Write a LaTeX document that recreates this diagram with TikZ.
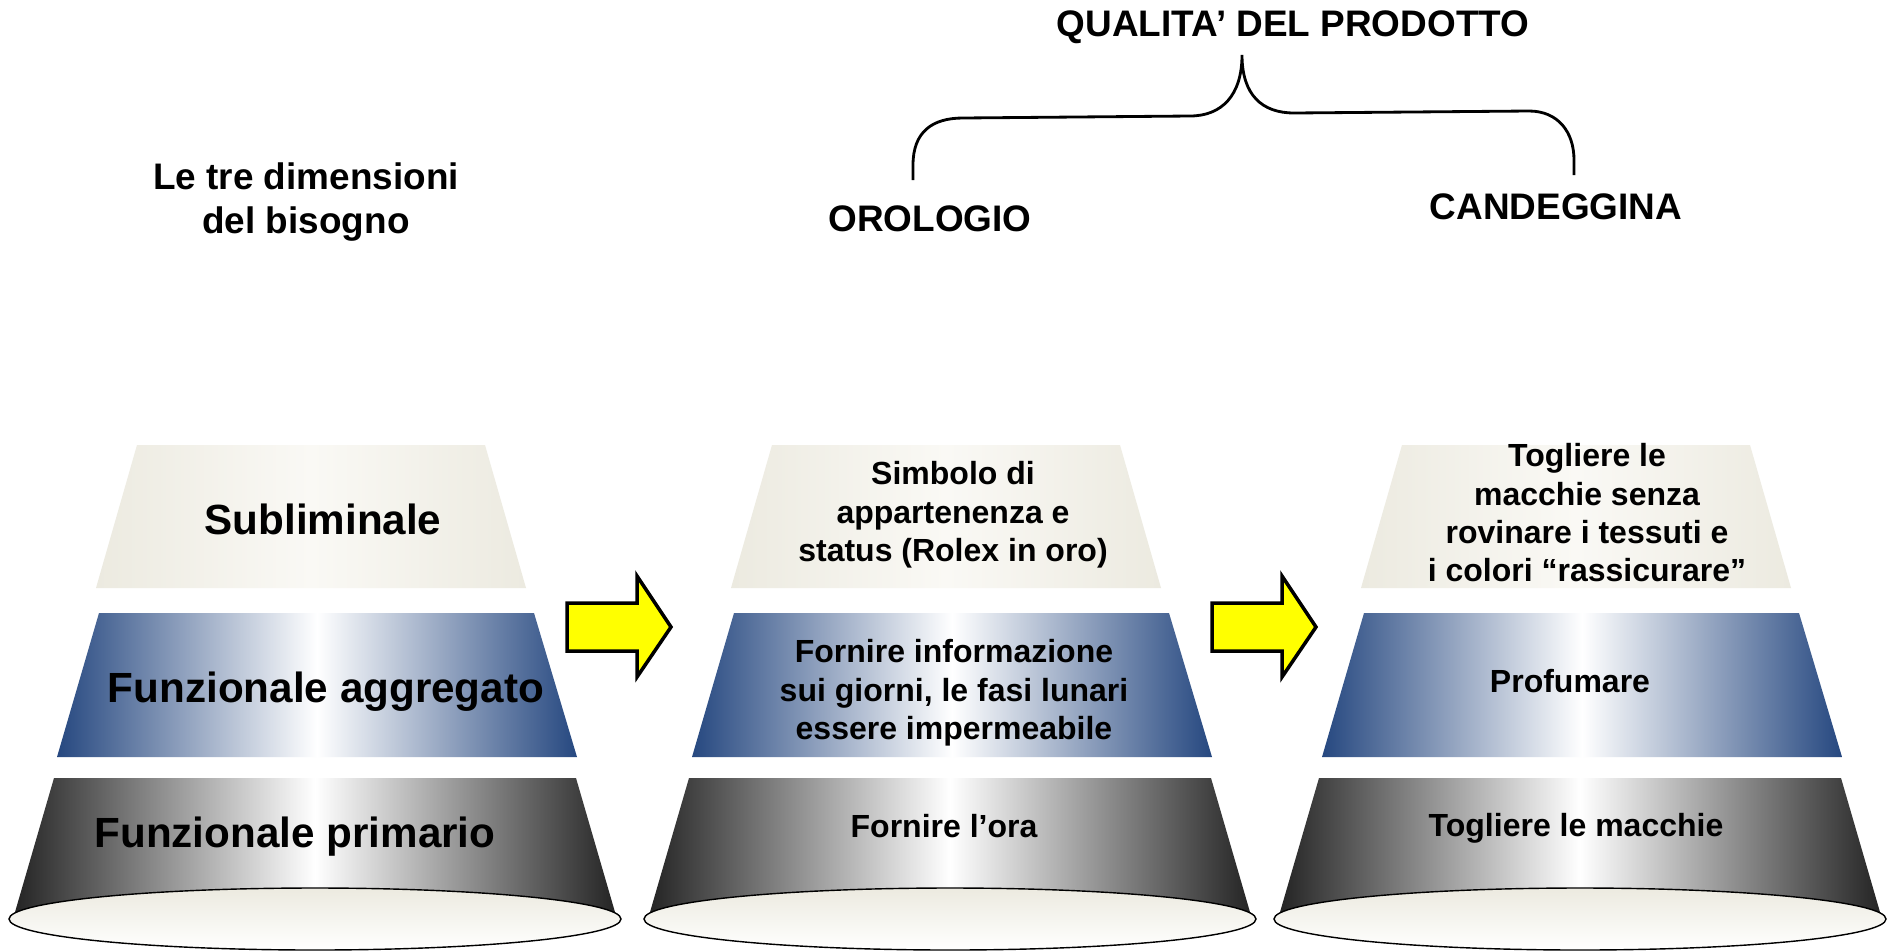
\documentclass[tikz,border=0pt]{standalone}
\usepackage{fontspec}
\setmainfont{Liberation Sans}
\usetikzlibrary{positioning}

\definecolor{creamedge}{RGB}{236,234,224}
\definecolor{creammid}{RGB}{250,249,245}
\definecolor{blueedge}{RGB}{38,72,128}
\definecolor{darkedge}{RGB}{35,35,35}
\definecolor{arrowyel}{RGB}{255,255,0}

\newcommand{\hdn}{\node[font=\bfseries\fontsize{10.5}{12.7}\selectfont, align=center]}
\newcommand{\lbn}{\node[font=\bfseries\fontsize{12}{14}\selectfont, anchor=base]}
\newcommand{\txn}{\node[font=\bfseries\fontsize{9.1}{10.9}\selectfont, align=center]}

% one pyramid, #1 = x of its axis
\newcommand{\pyr}[1]{
    \shade[left color=creamedge, right color=creamedge, middle color=creammid]
        ({#1-178},445) -- ({#1+170},445) -- ({#1+211},588) -- ({#1-219},588) -- cycle;
    \shade[left color=blueedge, right color=blueedge, middle color=white]
        ({#1-216},613) -- ({#1+219},613) -- ({#1+262},757) -- ({#1-258},757) -- cycle;
    \shade[left color=darkedge, right color=darkedge, middle color=white]
        ({#1-261},778) -- ({#1+261},778) -- ({#1+302},919) -- ({#1-302},919) -- cycle;
    \shade[top color=creamedge, bottom color=white, draw=black, line width=0.4pt]
        (#1,919) ellipse [x radius=306, y radius=31];
}

% yellow block arrow, #1 = left end of its body
\newcommand{\yarr}[1]{
    \draw[fill=arrowyel, line width=1pt, line join=miter]
        (#1,603) -- ({#1+70},603) -- ({#1+70},576) -- ({#1+104},627)
        -- ({#1+70},677) -- ({#1+70},651) -- (#1,651) -- cycle;
}

\begin{document}
\begin{tikzpicture}[x=0.01cm, y=-0.01cm]
    \fill[white] (0,0) rectangle (1888,951);
    \useasboundingbox (0,0) rectangle (1888,951);

    \pyr{315}
    \pyr{950}
    \pyr{1580}

    \yarr{567}
    \yarr{1212}

    % headings
    \hdn (dim) at (306,202) {Le tre dimensioni\\del bisogno};
    \hdn (qual) at (1293,27) {QUALITA’ DEL PRODOTTO};
    \hdn (orol) at (930,219) {OROLOGIO};
    \hdn (cand) at (1556,207) {CANDEGGINA};

    % brace under the product heading
    \coordinate (bl) at (913,180);
    \coordinate (bt) at (1242,55);
    \coordinate (br) at (1574,175);
    \draw[line width=0.8pt]
        (bl) -- (913,165) .. controls (913,132) and (932,118) .. (963,118)
        -- (1190,116) .. controls (1222,116) and (1242,95) .. (bt)
        .. controls (1242,95) and (1262,113) .. (1294,113)
        -- (1529,111) .. controls (1558,111) and (1574,132) .. (1574,160)
        -- (br);

    % levels
    \lbn (sub) at (323,534) {Subliminale};
    \lbn (agg) at (326,702) {Funzionale aggregato};
    \lbn (pri) at (295,847) {Funzionale primario};

    % watch
    \txn (osub) at (953,515) {Simbolo di\\appartenenza e\\status (Rolex in oro)};
    \txn (oagg) at (954,693) {Fornire informazione\\sui giorni, le fasi lunari\\essere impermeabile};
    \txn[anchor=base] (opri) at (944,837) {Fornire l’ora};

    % bleach
    \txn (csub) at (1587,513) {Togliere le\\macchie senza\\rovinare i tessuti e\\i colori “rassicurare”};
    \txn[anchor=base] (cagg) at (1570,692) {Profumare};
    \txn[anchor=base] (cpri) at (1576,836) {Togliere le macchie};
\end{tikzpicture}
\end{document}
